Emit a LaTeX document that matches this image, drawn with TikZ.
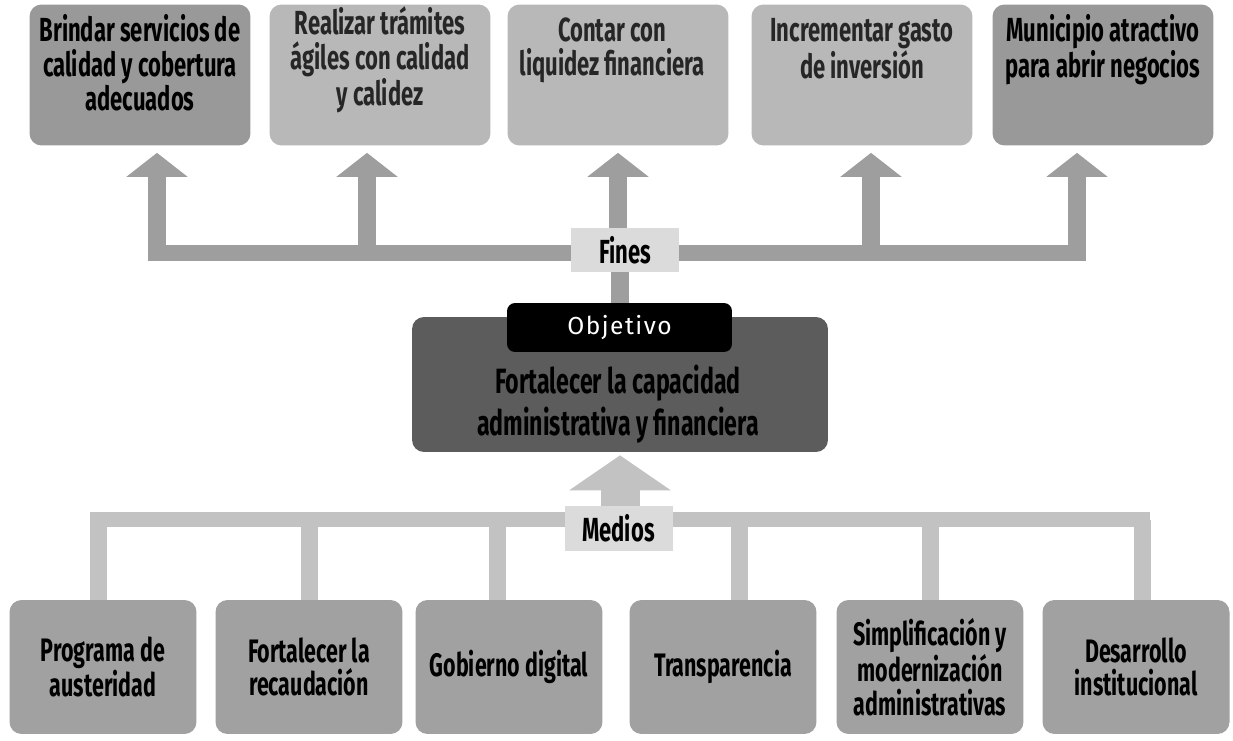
\documentclass[tikz,border=0pt]{standalone}
\usepackage{fontspec}
\setmainfont{Fira Sans}
\newfontfamily\condfont{Fira Sans}[FakeStretch=0.66]
\newfontfamily\tabfont{Fira Sans}[LetterSpace=6]
\usetikzlibrary{arrows.meta, positioning}

\definecolor{darkbox}{gray}{0.60}
\definecolor{lightbox}{gray}{0.72}
\definecolor{mediobox}{gray}{0.63}
\definecolor{objbox}{gray}{0.36}
\definecolor{finesgray}{gray}{0.62}
\definecolor{mediosgray}{gray}{0.76}
\definecolor{taggray}{gray}{0.86}

\begin{document}
\begin{tikzpicture}[x=0.02cm, y=-0.02cm,
    fin/.style={rectangle, rounded corners=0.24cm, fill=#1, minimum width=4.42cm, minimum height=2.82cm},
    fintext/.style={align=center, font=\condfont\bfseries\fontsize{19}{19.5}\selectfont},
    medio/.style={rectangle, rounded corners=0.24cm, fill=mediobox, minimum width=3.74cm, minimum height=2.68cm, align=center, font=\condfont\bfseries\fontsize{18.5}{19}\selectfont},
    bar/.style={rectangle, fill=#1, inner sep=0pt, minimum height=0.32cm},
    tag/.style={rectangle, fill=taggray, inner sep=0pt, minimum width=2.16cm, minimum height=0.9cm, font=\condfont\bfseries\fontsize{19}{20}\selectfont},
    uparrow/.style={-{Triangle[width=1.2cm, length=0.48cm]}, line width=0.36cm, draw=finesgray},
    bigarrow/.style={-{Triangle[width=2cm, length=0.7cm]}, line width=0.78cm, draw=mediosgray},
    stemline/.style={line width=0.34cm, draw=#1},
]
\useasboundingbox (0,0) rectangle (1233,740);
\fill[white] (0,0) rectangle (1233,740);

% Fines
\node[fin=darkbox] (f1) at (140,75) {};
\node[fin=lightbox] (f2) at (380,75) {};
\node[fin=lightbox] (f3) at (618,75) {};
\node[fin=lightbox] (f4) at (862,75) {};
\node[fin=darkbox] (f5) at (1103,75) {};
\node[fintext] (f1t) at (140,63) {Brindar servicios de\\calidad y cobertura\\adecuados};
\node[fintext, text=black!85] (f2t) at (380,60) {Realizar trámites\\ágiles con calidad\\y calidez};
\node[fintext, text=black!85] (f3t) at (612,50) {Contar con\\liquidez financiera};
\node[fintext, text=black!85] (f4t) at (862,49) {Incrementar gasto\\de inversión};
\node[fintext] (f5t) at (1103,50) {Municipio atractivo\\para abrir negocios};

\node[bar=finesgray, minimum width=18.76cm] (finesbar) at (617,252.5) {};

\draw[uparrow] ([xshift=0.34cm]f1.south |- finesbar.center) -- ([xshift=0.34cm, yshift=-0.14cm]f1.south);
\draw[uparrow] ([xshift=-0.26cm]f2.south |- finesbar.center) -- ([xshift=-0.26cm, yshift=-0.14cm]f2.south);
\draw[uparrow] (f3.south |- finesbar.center) -- ([yshift=-0.14cm]f3.south);
\draw[uparrow] ([xshift=0.18cm]f4.south |- finesbar.center) -- ([xshift=0.18cm, yshift=-0.14cm]f4.south);
\draw[uparrow] ([xshift=-0.52cm]f5.south |- finesbar.center) -- ([xshift=-0.52cm, yshift=-0.14cm]f5.south);

% Objetivo
\node[rectangle, rounded corners=0.24cm, fill=objbox, minimum width=8.32cm, minimum height=2.7cm] (obj) at (620,384.5) {};
\node[rectangle, rounded corners=0.16cm, fill=black, text=white, minimum width=4.5cm, minimum height=0.98cm, font=\tabfont\fontsize{14}{16}\selectfont] (tab) at (619.5,327.5) {Objetivo};
\node[align=center, font=\condfont\bfseries\fontsize{20}{24}\selectfont] (objt) at (618,404) {Fortalecer la capacidad\\administrativa y financiera};

\draw[stemline=finesgray, line width=0.36cm] (tab.north |- finesbar.center) -- (tab.north);
\node[tag] (fines) at (625,250) {Fines};

% Medios
\node[medio] (m1) at (103,667) {Programa de\\austeridad};
\node[medio] (m2) at (309,667) {Fortalecer la\\recaudación};
\node[medio] (m3) at (509,667) {Gobierno digital};
\node[medio] (m4) at (723,667) {Transparencia};
\node[medio] (m5) at (930,667) {Simplificación y\\modernización\\administrativas};
\node[medio] (m6) at (1136,667) {Desarrollo\\institucional};

\node[bar=mediosgray, minimum width=21.2cm, minimum height=0.3cm] (mediosbar) at (620,519.5) {};

\draw[stemline=mediosgray] ([xshift=-0.09cm]m1.north) -- ([xshift=-0.09cm]m1.north |- mediosbar.center);
\draw[stemline=mediosgray] (m2.north) -- (m2.north |- mediosbar.center);
\draw[stemline=mediosgray] ([xshift=-0.24cm]m3.north) -- ([xshift=-0.24cm]m3.north |- mediosbar.center);
\draw[stemline=mediosgray] ([xshift=0.32cm]m4.north) -- ([xshift=0.32cm]m4.north |- mediosbar.center);
\draw[stemline=mediosgray] (m5.north) -- (m5.north |- mediosbar.center);
\draw[stemline=mediosgray] ([xshift=0.12cm]m6.north) -- ([xshift=0.12cm]m6.north |- mediosbar.center);

\draw[bigarrow] (obj.south |- mediosbar.center) -- ([yshift=-0.06cm]obj.south);
\node[tag] (medios) at (618.5,528) {Medios};

\end{tikzpicture}
\end{document}
